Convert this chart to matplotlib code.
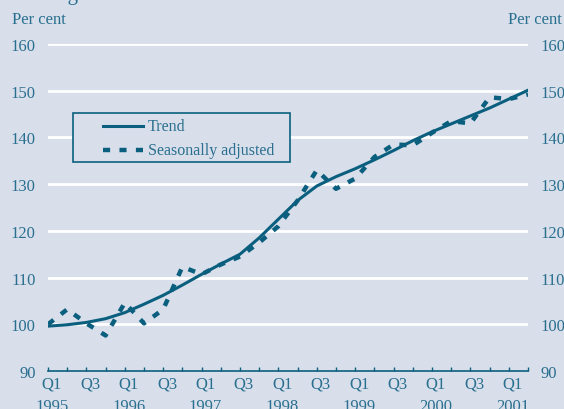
import numpy as np
import matplotlib
matplotlib.use("Agg")
import matplotlib.pyplot as plt
from matplotlib.lines import Line2D
from matplotlib.patches import Rectangle

plt.rcParams['font.family'] = ['Liberation Serif', 'DejaVu Serif']

# quarters 1995 Q1 .. 2001 Q2
quarters = ['Q1', 'Q2', 'Q3', 'Q4'] * 6 + ['Q1', 'Q2']
years = [str(y) for y in range(1995, 2002)]

trend = [99.6, 99.9, 100.4, 101.2, 102.5, 104.3, 106.2, 108.4,
         110.7, 112.9, 115.0, 118.5, 122.5, 126.5, 129.6, 131.6,
         133.3, 135.2, 137.2, 139.3, 141.2, 142.9, 144.6, 146.3,
         148.2, 150.1]
seas_adj = [100.0, 103.2, 100.2, 97.6, 104.6, 100.2, 103.2, 112.3,
            110.7, 112.8, 114.5, 117.5, 121.0, 126.5, 133.0, 129.0,
            131.2, 135.8, 138.5, 138.3, 141.0, 143.5, 143.0, 148.6,
            148.2, 149.2]

bg = '#d8dfeb'
line_col = '#0b5f7e'
txt_col = '#2a6f8f'
fs = 12
dash = (0, (1.6, 2.1))

fig = plt.figure(figsize=(5.64, 4.10), dpi=100, facecolor=bg)
ax = fig.add_axes([48/564, 38/410, 480/564, 327/410], facecolor=bg)

x = np.arange(len(trend))
ax.set_xlim(0, len(trend) - 1)
ax.set_ylim(90, 160)

for v in range(100, 161, 10):
    ax.axhline(v, color='white', lw=2, zorder=1)

ax.plot(x, trend, color=line_col, lw=2.2, zorder=3)
ax.plot(x, seas_adj, color=line_col, lw=3.2, ls=dash, zorder=3)

for s in ['top', 'left', 'right']:
    ax.spines[s].set_visible(False)
ax.spines['bottom'].set_color(line_col)
ax.spines['bottom'].set_linewidth(1.2)

ax.set_xticks(x)
ax.set_xticklabels([])
ax.tick_params(axis='x', direction='in', length=3, color=line_col, width=1)
ax.set_yticks(range(90, 161, 10))
ax.tick_params(axis='y', length=0, labelsize=fs, labelcolor=txt_col,
               labelleft=True, labelright=True, pad=9)

# Q1 / Q3 labels with years under the Q1s
for i, q in enumerate(quarters):
    if q in ('Q1', 'Q3'):
        ax.text(i + 0.2, 89.0, q, ha='center', va='top', fontsize=fs,
                color=txt_col)
    if q == 'Q1':
        ax.text(i + 0.2, 84.2, years[i // 4], ha='center', va='top',
                fontsize=fs, color=txt_col)

fig.text(12/564, 1 - 24/410, 'Per cent', fontsize=fs, color=txt_col,
         ha='left', va='baseline')
fig.text(562/564, 1 - 24/410, 'Per cent', fontsize=fs, color=txt_col,
         ha='right', va='baseline')
fig.text(22/564, 1.0, 'average of 1995 = 100', fontsize=15, color=txt_col,
         ha='left', va='baseline')

# legend box
W, H = 564, 410
fig.add_artist(Rectangle((73/W, 1 - 163/H), 217/W, 49/H, transform=fig.transFigure,
                         facecolor=bg, edgecolor=line_col, lw=1.2, zorder=5))
fig.add_artist(Line2D([103/W, 143/W], [1 - 127/H] * 2, transform=fig.transFigure,
                      color=line_col, lw=2.2, zorder=6))
fig.add_artist(Line2D([103/W, 143/W], [1 - 151/H] * 2, transform=fig.transFigure,
                      color=line_col, lw=3.2, ls=dash, zorder=6))
fig.text(148/W, 1 - 127/H, 'Trend', fontsize=11.5, color=txt_col,
         ha='left', va='center', zorder=7)
fig.text(148/W, 1 - 151/H, 'Seasonally adjusted', fontsize=11.5, color=txt_col,
         ha='left', va='center', zorder=7)

fig.savefig('out.png', dpi=100, facecolor=bg)
